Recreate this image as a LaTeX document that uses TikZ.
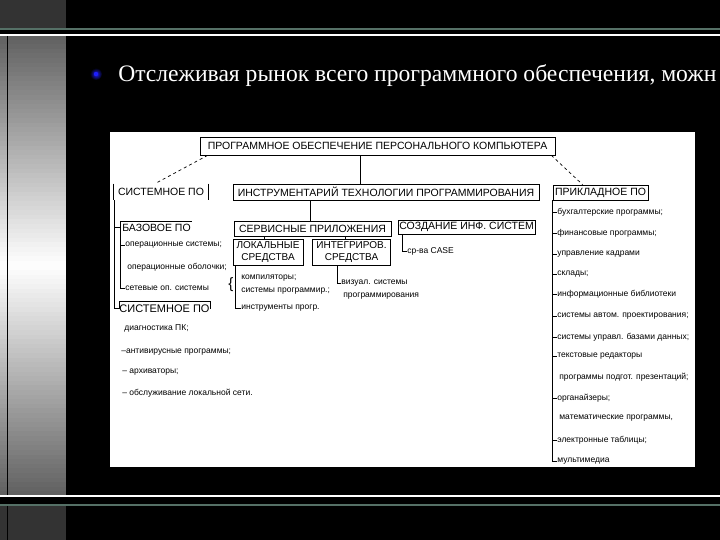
\documentclass[tikz,border=0pt]{standalone}
\usepackage{fontspec}
\setmainfont{Liberation Serif}
\newfontfamily\diagfont{Liberation Sans}
\definecolor{slidegreen}{RGB}{85,112,102}
\definecolor{bulletblue}{RGB}{30,30,255}

\begin{document}
\begin{tikzpicture}[x=1pt,y=-1pt,line width=0.7pt,
                    head node/.style={draw,inner sep=0pt,font=\diagfont\fontsize{10.5}{13}\selectfont},
                    item node/.style={anchor=west,inner sep=0pt,font=\diagfont\fontsize{8.5}{10}\selectfont}]
    \useasboundingbox (0,0) rectangle (720,540);
    % slide background
    \fill[black] (0,0) rectangle (720,540);
    \fill[black!80] (0,0) rectangle (66,29);
    \fill[black!80] (0,505) rectangle (66,540);
    \foreach \i in {0,...,99} {
        \pgfmathsetmacro\shadeval{100-62*abs(\i-49.5)/49.5}
        \fill[white!\shadeval!black] (0,35+4.61*\i) rectangle (66,35+4.61*\i+4.9);
    }
    \draw[black,line width=1pt] (7,35) -- (7,540);
    \draw[slidegreen,line width=1.6pt] (0,29) -- (720,29) (0,505) -- (720,505);
    \draw[white,line width=1.2pt] (0,35) -- (720,35) (0,496) -- (720,496);
    \shade[inner color=bulletblue,outer color=black] (96,74) circle (6pt);
    \fill[bulletblue] (96,74) circle (2.2pt);
    \node[anchor=base west,inner sep=0pt,text=white,font=\fontsize{23.6}{28}\selectfont] (title) at (118,82)
        {Отслеживая рынок всего программного обеспечения, можн};
    \fill[white] (110,132) rectangle (695,467);

    % boxes
    \node[head node,minimum width=355pt,minimum height=18pt] (PO) at (377.5,146) {ПРОГРАММНОЕ ОБЕСПЕЧЕНИЕ ПЕРСОНАЛЬНОГО КОМПЬЮТЕРА};
    \node[head node,draw=none,minimum width=94pt,minimum height=16pt] (SYS) at (161,192) {СИСТЕМНОЕ ПО};
    \node[head node,minimum width=306pt,minimum height=16pt] (INS) at (386,192) {ИНСТРУМЕНТАРИЙ ТЕХНОЛОГИИ ПРОГРАММИРОВАНИЯ};
    \node[head node,minimum width=95pt,minimum height=15pt] (APP) at (600.5,192.5) {ПРИКЛАДНОЕ ПО};
    \node[head node,draw=none,minimum width=71pt,minimum height=11pt] (BAS) at (156.5,227.5) {БАЗОВОЕ ПО};
    \node[head node,minimum width=157pt,minimum height=15pt] (SRV) at (312.5,228.5) {СЕРВИСНЫЕ ПРИЛОЖЕНИЯ};
    \node[head node,minimum width=137pt,minimum height=14pt] (CIS) at (466.5,227) {СОЗДАНИЕ ИНФ. СИСТЕМ};
    \node[head node,minimum width=70pt,minimum height=26pt,align=center,font=\diagfont\fontsize{10}{12.5}\selectfont] (LOC) at (268,252) {ЛОКАЛЬНЫЕ\\СРЕДСТВА};
    \node[head node,minimum width=78pt,minimum height=26pt,align=center,font=\diagfont\fontsize{10}{12.5}\selectfont] (INT) at (351.5,252) {ИНТЕГРИРОВ.\\СРЕДСТВА};
    \node[head node,draw=none,minimum width=87pt,minimum height=13pt,font=\diagfont\fontsize{11}{13}\selectfont] (SYS2) at (164.5,308.5) {СИСТЕМНОЕ ПО};
    \draw (SYS.north west) -- (SYS.south west) (SYS.north east) -- (SYS.south east);
    \draw (BAS.south west) -- (BAS.north west) -- (BAS.north east);
    \draw (SYS2.west) -- (SYS2.north west) -- (SYS2.north east) -- (SYS2.east);

    % items
    \node[item node] (os) at (125,245) {операционные системы;};
    \node[item node] (shell) at (127,267) {операционные оболочки;};
    \node[item node] (net) at (125,288) {сетевые оп. системы};
    \node[item node] (diag) at (124,328) {диагностика ПК;};
    \node[item node] (anti) at (121,352) {–антивирусные программы;};
    \node[item node] (arch) at (122,372) {– архиваторы;};
    \node[item node] (lan) at (122,393) {– обслуживание локальной сети.};

    \node[inner sep=0pt,font=\diagfont\fontsize{15}{15}\selectfont] (brace) at (231,285) {\{};
    \node[item node] (comp) at (241,278) {компиляторы;};
    \node[item node] (edit) at (241,291) {системы программир.;};
    \node[item node] (tool) at (241,308) {инструменты прогр.};
    \node[item node] (vis) at (341,283) {визуал. системы};
    \node[item node] (vis2) at (343,296) {программирования};
    \node[item node] (case) at (407,251) {ср-ва CASE};

    \node[item node] (buh) at (557,212) {бухгалтерские программы;};
    \node[item node] (fin) at (557,233) {финансовые программы;};
    \node[item node] (kadr) at (557,254) {управление кадрами};
    \node[item node] (skl) at (557,274) {склады;};
    \node[item node] (bib) at (557,294) {информационные библиотеки};
    \node[item node] (sapr) at (557,316) {системы автом. проектирования;};
    \node[item node] (subd) at (557,337) {системы управл. базами данных;};
    \node[item node] (txt) at (557,356) {текстовые редакторы};
    \node[item node] (pres) at (559,377) {программы подгот. презентаций;};
    \node[item node] (org) at (557,398) {органайзеры;};
    \node[item node] (math) at (559,418) {математические программы,};
    \node[item node] (tab) at (557,440) {электронные таблицы;};
    \node[item node] (mm) at (557,461) {мультимедиа};

    % connectors
    \draw[dashed] ([xshift=8pt]PO.south west) -- ([xshift=-6pt]SYS.north);
    \draw[dashed] ([xshift=-4pt]PO.south east) -- ([xshift=30pt]APP.north west);
    \draw ([xshift=-17.5pt]PO.south) -- ([xshift=-17.5pt]PO.south |- INS.north);
    \draw ([xshift=-2.5pt]SRV.north) -- ([xshift=-2.5pt]SRV.north |- INS.south);
    \draw ([xshift=-4pt]LOC.north) -- ([xshift=-4pt]LOC.north |- SRV.south);
    \draw ([xshift=-6.5pt]INT.north) -- ([xshift=-6.5pt]INT.north |- SRV.south);
    \draw ([xshift=1pt]SYS.south west) |- (SYS2.west);
    \draw ([xshift=1pt]SYS.south west) |- (BAS.west);
    \draw (BAS.south west) |- (net.west);
    \draw (os.west -| BAS.west) -- (os.west);
    \draw ([xshift=3pt]LOC.south west) |- (tool.west);
    \draw ([xshift=-14.5pt]INT.south) |- (vis.west);
    \draw ([xshift=5pt]CIS.south west) |- (case.west);
    \draw (APP.south west) |- (mm.west);
    \draw (buh.west -| APP.west) -- (buh.west)
          (fin.west -| APP.west) -- (fin.west)
          (kadr.west -| APP.west) -- (kadr.west)
          (skl.west -| APP.west) -- (skl.west)
          (bib.west -| APP.west) -- (bib.west)
          (sapr.west -| APP.west) -- (sapr.west)
          (subd.west -| APP.west) -- (subd.west)
          (txt.west -| APP.west) -- (txt.west)
          (org.west -| APP.west) -- (org.west)
          (tab.west -| APP.west) -- (tab.west);
\end{tikzpicture}
\end{document}
